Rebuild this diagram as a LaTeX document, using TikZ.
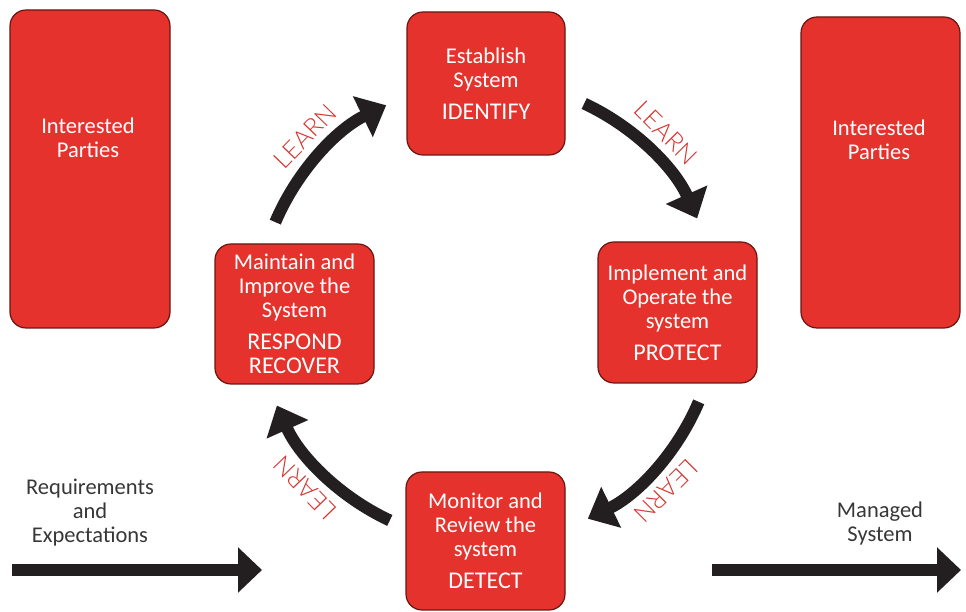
\documentclass[tikz,border=0pt]{standalone}
\usepackage{fontspec}
\setmainfont{Carlito}
\IfFontExistsTF{Lato Light}
  {\newfontfamily\learnfont{Lato Light}}
  {\newfontfamily\learnfont{Carlito}}
\usetikzlibrary{arrows.meta,calc}
\definecolor{boxred}{RGB}{229,50,44}
\definecolor{boxedge}{RGB}{105,22,18}
\definecolor{ink}{RGB}{35,31,32}
\definecolor{learnred}{RGB}{214,52,46}
\definecolor{note}{RGB}{55,55,55}
\newcommand{\keyword}[1]{{\fontsize{24}{26}\selectfont #1}}

\begin{document}
\begin{tikzpicture}[x=1pt,y=1pt,
  panel/.style 2 args={draw=boxedge, line width=1.2pt, fill=boxred,
    rounded corners=16pt, minimum width=#1pt, minimum height=#2pt,
    inner sep=0pt, text=white, align=center,
    font=\fontsize{22.5}{24}\selectfont},
  paneltext/.style={text=white, align=center, inner sep=0pt,
    font=\fontsize{22.5}{24}\selectfont},
  notetext/.style={text=note, align=center, inner sep=0pt,
    font=\fontsize{22.5}{24}\selectfont},
  learn/.style={text=learnred, inner sep=0pt,
    font=\learnfont\fontsize{25}{26}\selectfont},
  cycle arrow/.style={draw=ink, line width=12pt,
    -{Triangle[length=26pt,width=44pt]}},
  flow arrow/.style={draw=ink, line width=12pt,
    -{Triangle[length=24pt,width=44pt]}}
]
\useasboundingbox (0,0) rectangle (966,612);

% stakeholders on either side
\node[panel={160}{318}] (partiesL) at (90,443) {};
\node[paneltext] (partiesLtext) at (88,474) {Interested\\Parties};
\node[panel={159}{311}] (partiesR) at (880.5,439.5) {};
\node[paneltext] (partiesRtext) at (879,472) {Interested\\Parties};

% the four stages of the cycle
\node[panel={158}{143}] (establish) at (486,528.5)
  {Establish\\System\\[8pt]\keyword{IDENTIFY}};
\node[panel={159}{141}] (implement) at (677.5,299.5)
  {Implement and\\Operate the\\system\\[8pt]\keyword{PROTECT}};
\node[panel={159}{140}] (maintain) at (294.5,298)
  {Maintain and\\Improve the\\System\\[8pt]\keyword{RESPOND}\\\keyword{RECOVER}};
\node[panel={159}{138}] (monitor) at (485.5,71)
  {Monitor and\\Review the\\system\\[8pt]\keyword{DETECT}};

% curved arrows of the cycle
\coordinate (c) at (487,300);
\coordinate (a1) at ($(c)+(157:230pt)$);
\coordinate (a2) at ($(c)+(65:230pt)$);
\coordinate (a3) at ($(c)+(-23:230pt)$);
\coordinate (a4) at ($(c)+(-115:230pt)$);
\draw[cycle arrow] (a1) arc[start angle=157, end angle=116, radius=230pt];
\draw[cycle arrow] (a2) arc[start angle=65, end angle=24, radius=230pt];
\draw[cycle arrow] (a3) arc[start angle=-23, end angle=-64, radius=230pt];
\draw[cycle arrow] (a4) arc[start angle=-115, end angle=-156, radius=230pt];

% LEARN labels along the cycle
\node[learn, rotate=46] (learnTL) at ($(c)+(136:253pt)$) {LEARN};
\node[learn, rotate=-45] (learnTR) at ($(c)+(45:253pt)$) {LEARN};
\node[learn, rotate=-135] (learnBR) at ($(c)+(-45:253pt)$) {LEARN};
\node[learn, rotate=134] (learnBL) at ($(c)+(-136:253pt)$) {LEARN};

% inputs and outputs
\node[notetext] (reqs) at (90,99) {Requirements\\and\\Expectations};
\node[notetext] (managed) at (880,88) {Managed\\System};
\coordinate (inStart) at (12,42);
\coordinate (inEnd) at (262,42);
\coordinate (outStart) at (712,42);
\coordinate (outEnd) at (961,42);
\draw[flow arrow] (inStart) -- (inEnd);
\draw[flow arrow] (outStart) -- (outEnd);
\end{tikzpicture}
\end{document}
